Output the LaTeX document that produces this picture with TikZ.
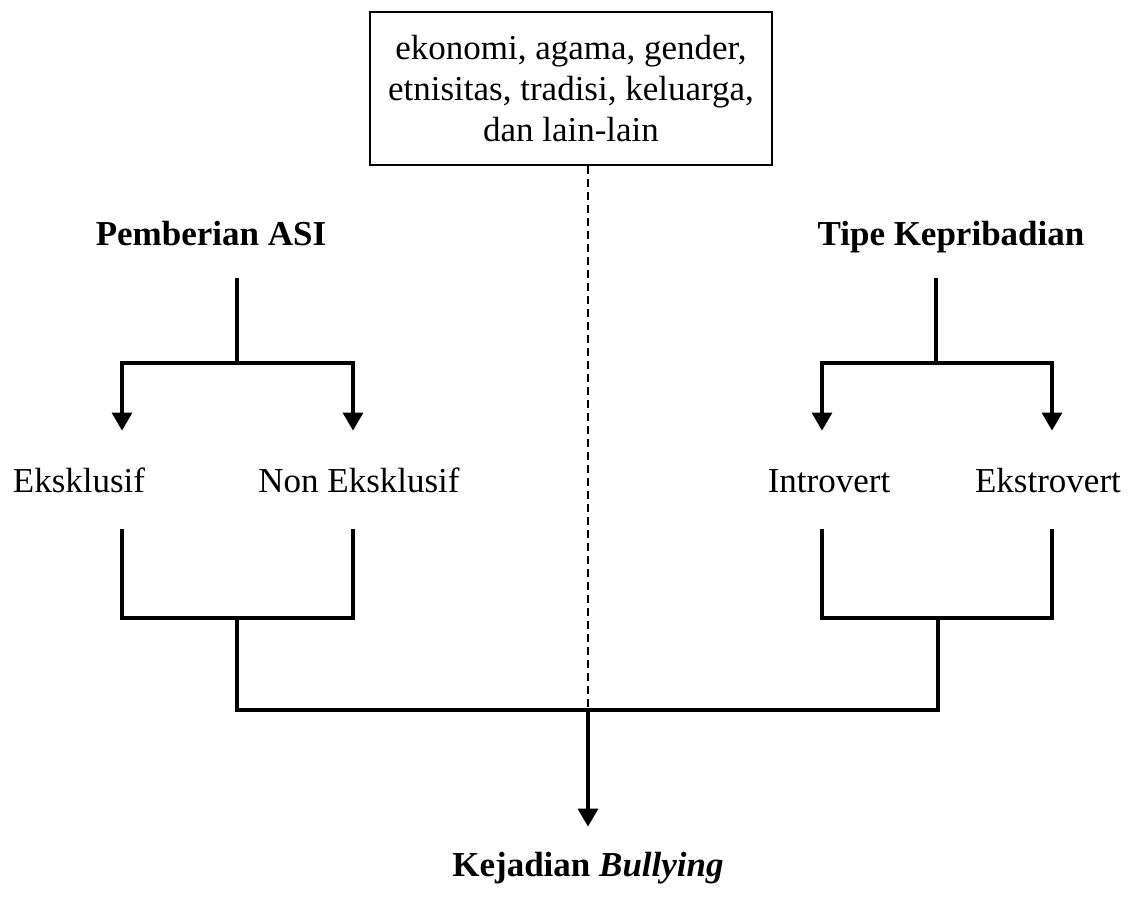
\documentclass[tikz,border=0pt]{standalone}
\usepackage{fontspec}
\setmainfont{Liberation Serif}
\usetikzlibrary{arrows.meta,positioning}
\newcommand{\ukuran}{\fontsize{17.5}{20.5}\selectfont}
\tikzset{
  kotak/.style={draw,line width=1pt,align=center,minimum width=201pt,minimum height=76.5pt,inner sep=2pt},
  judul/.style={font=\ukuran\bfseries,anchor=base,text height=12pt,text depth=4pt,inner xsep=2pt,inner ysep=12.5pt},
  teks/.style={anchor=base,text height=12pt,text depth=0pt,inner xsep=2pt,inner ysep=18.5pt},
  garis/.style={line width=1.6pt},
  panah/.style={garis,-{Triangle[length=9pt,width=10pt]}},
  putus/.style={line width=1.2pt,dash pattern=on 4pt off 2.5pt},
}
\begin{document}
\begin{tikzpicture}[x=0.5pt,y=0.5pt,font=\ukuran]
  \useasboundingbox (0,0) rectangle (1132,-905);
  % faktor lain
  \node[kotak] (faktor) at (571,-88.5) {ekonomi, agama, gender,\\ etnisitas, tradisi, keluarga,\\ dan lain-lain};
  % variabel
  \node[judul] (asi) at (211,-245) {Pemberian ASI};
  \node[judul] (tipe) at (951,-245) {Tipe Kepribadian};
  \node[teks] (eks) at (79,-492) {Eksklusif};
  \node[teks] (noneks) at (359,-492) {Non Eksklusif};
  \node[teks] (intro) at (829,-492) {Introvert};
  \node[teks] (ekstro) at (1048,-492) {Ekstrovert};
  \node[judul] (bully) at (588,-876) {Kejadian \textit{Bullying}};

  % titik cabang
  \coordinate (cabA) at (237,-363);
  \coordinate (cabB) at (936,-363);
  \coordinate (kiA) at (122,-363);
  \coordinate (kaA) at (353,-363);
  \coordinate (kiB) at (822,-363);
  \coordinate (kaB) at (1052,-363);
  \coordinate (gabA) at (237,-618);
  \coordinate (gabB) at (938,-618);
  \coordinate (temu) at (588,-710);

  \draw[garis] (asi.south -| cabA) -- (cabA);
  \draw[panah] (cabA) -| (kiA |- eks.north);
  \draw[panah] (cabA) -| (kaA |- noneks.north);
  \draw[garis] (tipe.south -| cabB) -- (cabB);
  \draw[panah] (cabB) -| (kiB |- intro.north);
  \draw[panah] (cabB) -| (kaB |- ekstro.north);

  \draw[garis] (kiA |- eks.south) |- (gabA) -| (kaA |- noneks.south);
  \draw[garis] (kiB |- intro.south) |- (gabB) -| (kaB |- ekstro.south);
  \draw[garis] (gabA) |- (temu) -| (gabB);

  \draw[putus] (faktor.south -| temu) -- (temu);
  \draw[panah] (temu) -- (bully);
\end{tikzpicture}
\end{document}
